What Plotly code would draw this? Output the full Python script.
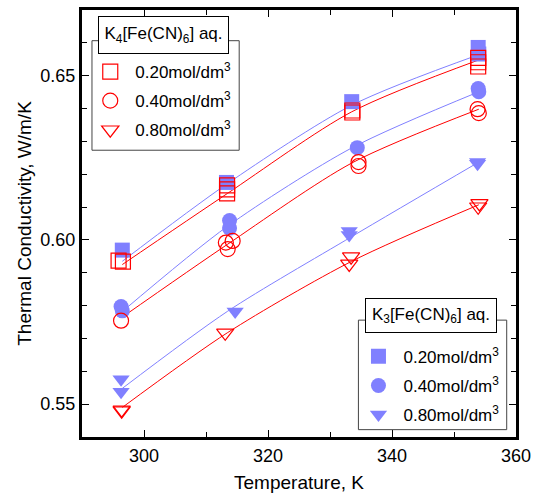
import plotly.graph_objects as go

# ---------------- data ----------------
# K3[Fe(CN)6] (filled, blue)
k3_020_T = [296.5, 313.3, 333.5, 353.9, 354.0]
k3_020_k = [0.5969, 0.6175, 0.6421, 0.6586, 0.6566]
k3_040_T = [296.3, 296.5, 313.8, 313.8, 334.4, 353.9, 354.0]
k3_040_k = [0.5797, 0.5784, 0.6059, 0.6036, 0.6281, 0.6461, 0.6451]
k3_080_T = [296.3, 296.3, 314.7, 333.1, 333.1, 353.8, 353.8]
k3_080_k = [0.5576, 0.5538, 0.5782, 0.6027, 0.6015, 0.6237, 0.6232]

# K4[Fe(CN)6] (open, red)
k4_020_T = [295.9, 296.6, 313.4, 313.4, 313.4, 333.6, 333.6, 353.9, 353.9, 353.9]
k4_020_k = [0.5937, 0.5934, 0.6166, 0.6154, 0.6142, 0.6394, 0.6388, 0.6554, 0.6541, 0.6528]
k4_040_T = [296.3, 313.2, 314.3, 313.5, 334.6, 334.6, 353.8, 354.0]
k4_040_k = [0.5754, 0.5992, 0.5997, 0.5972, 0.6237, 0.6225, 0.6398, 0.6386]
k4_080_T = [296.4, 296.4, 313.1, 333.4, 333.1, 354.1, 353.9]
k4_080_k = [0.5483, 0.5480, 0.5717, 0.5949, 0.5927, 0.6111, 0.6101]

# fitted curves
fit_T = [296.5, 313.5, 333.5, 354.0]
fit_k3_020 = [0.5935, 0.6172, 0.6410, 0.6564]
fit_k4_020 = [0.5925, 0.6142, 0.6390, 0.6548]
fit_k3_040 = [0.5782, 0.6042, 0.6280, 0.6451]
fit_k4_040 = [0.5765, 0.5987, 0.6234, 0.6398]
fit_k3_080 = [0.5548, 0.5783, 0.6010, 0.6237]
fit_k4_080 = [0.5490, 0.5718, 0.5935, 0.6107]

conc_labels = ["0.20mol/dm<sup>3</sup>", "0.40mol/dm<sup>3</sup>", "0.80mol/dm<sup>3</sup>"]
x_ticks = [300, 320, 340, 360]
y_ticks = [0.55, 0.60, 0.65]
y_tick_text = ["0.55", "0.60", "0.65"]

BLUE = "#8080FF"
RED = "#FF0000"
FONT = "Arial, Liberation Sans, sans-serif"

fig = go.Figure()

# fit curves
for fk, col in [(fit_k3_020, BLUE), (fit_k4_020, RED), (fit_k3_040, BLUE),
                (fit_k4_040, RED), (fit_k3_080, BLUE), (fit_k4_080, RED)]:
    fig.add_trace(go.Scatter(x=fit_T, y=fk, mode="lines", showlegend=False,
                             line=dict(color=col, width=1, shape="spline", smoothing=0.8),
                             hoverinfo="skip"))

# K3 filled markers (legend2)
for i, (T, k, sym) in enumerate([(k3_020_T, k3_020_k, "square"),
                                  (k3_040_T, k3_040_k, "circle"),
                                  (k3_080_T, k3_080_k, "triangle-down")]):
    fig.add_trace(go.Scatter(x=T, y=k, mode="markers", name=conc_labels[i],
                             legend="legend2", legendgroup="k3_%d" % i,
                             marker=dict(symbol=sym, size=15, color=BLUE,
                                         line=dict(width=0))))

# K4 open markers (legend)
for i, (T, k, sym) in enumerate([(k4_020_T, k4_020_k, "square-open"),
                                  (k4_040_T, k4_040_k, "circle-open"),
                                  (k4_080_T, k4_080_k, "triangle-down-open")]):
    fig.add_trace(go.Scatter(x=T, y=k, mode="markers", name=conc_labels[i],
                             legend="legend", legendgroup="k4_%d" % i,
                             marker=dict(symbol=sym, size=15, color=RED,
                                         line=dict(width=1.2, color=RED))))

axis_common = dict(showline=True, linewidth=3, linecolor="black", mirror="ticks",
                   ticks="inside", tickcolor="black", tickwidth=1.2, ticklen=7,
                   showgrid=False, zeroline=False,
                   tickfont=dict(family=FONT, size=18, color="black"))

fig.update_layout(
    width=538, height=498,
    margin=dict(l=82, r=22, t=7, b=55),
    plot_bgcolor="white", paper_bgcolor="white",
    font=dict(family=FONT, color="black"),
    xaxis=dict(range=[290, 360], tickvals=x_ticks,
               minor=dict(dtick=10, tick0=290, ticks="inside", ticklen=5,
                          tickcolor="black", tickwidth=1.2),
               title=dict(text="Temperature, K", font=dict(family=FONT, size=19), standoff=12),
               ticklabelstandoff=0, **axis_common),
    yaxis=dict(range=[0.54, 0.67], tickvals=y_ticks, ticktext=y_tick_text,
               minor=dict(dtick=0.01, tick0=0.54, ticks="inside", ticklen=5,
                          tickcolor="black", tickwidth=1.2),
               title=dict(text="Thermal Conductivity, W/m/K", font=dict(family=FONT, size=19), standoff=4),
               ticklabelstandoff=0, **axis_common),
    legend=dict(x=0.0075, y=0.897, xanchor="left", yanchor="top", itemwidth=40,
                bgcolor="rgba(0,0,0,0)", borderwidth=0, tracegroupgap=4,
                font=dict(family=FONT, size=17, color="black")),
    legend2=dict(x=0.6255, y=0.230, xanchor="left", yanchor="top", itemwidth=40,
                 bgcolor="rgba(0,0,0,0)", borderwidth=0, tracegroupgap=4,
                 font=dict(family=FONT, size=17, color="black")),
    showlegend=True,
)

# legend frames
fig.add_shape(type="rect", xref="paper", yref="paper", x0=0.023, x1=0.3622,
              y0=0.6716, y1=0.9281, line=dict(color="#444444", width=1),
              fillcolor="white", layer="above")
fig.add_shape(type="rect", xref="paper", yref="paper", x0=0.6369, x1=0.9786,
              y0=0.0172, y1=0.2737, line=dict(color="#444444", width=1),
              fillcolor="white", layer="above")

# legend titles
fig.add_annotation(xref="paper", yref="paper", x=0.1867, y=0.9406,
                   text="K<sub>4</sub>[Fe(CN)<sub>6</sub>] aq.", showarrow=False,
                   font=dict(family=FONT, size=17, color="black"),
                   bgcolor="white", bordercolor="black", borderwidth=1,
                   width=127, height=34, borderpad=1, xanchor="center", yanchor="middle")
fig.add_annotation(xref="paper", yref="paper", x=0.8039, y=0.2847,
                   text="K<sub>3</sub>[Fe(CN)<sub>6</sub>] aq.", showarrow=False,
                   font=dict(family=FONT, size=17, color="black"),
                   bgcolor="white", bordercolor="black", borderwidth=1,
                   width=128, height=31, borderpad=1, xanchor="center", yanchor="middle")

fig.write_html("out.html")
